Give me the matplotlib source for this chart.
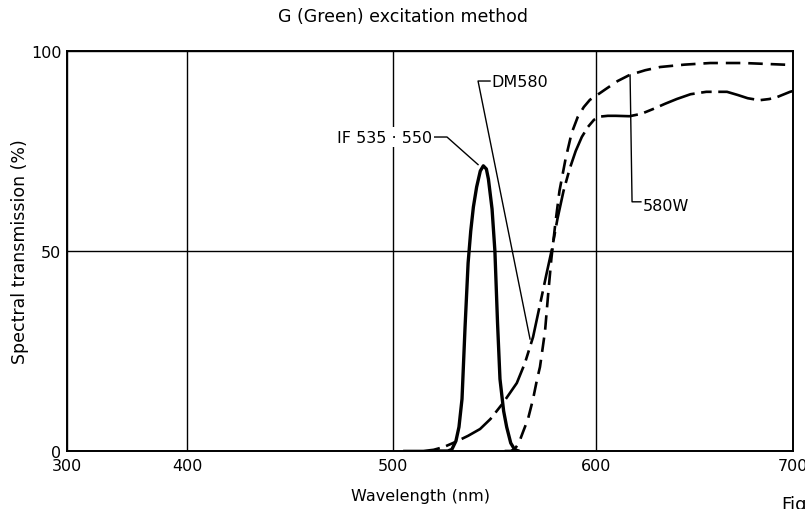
"""
G (Green) excitation method: spectral transmission of the exciter filter
(IF 535-550), dichroic mirror (DM580) and barrier filter (580W).
"""

import matplotlib
matplotlib.use("Agg")
import matplotlib.pyplot as plt
import numpy as np

# exciter filter IF 535-550 (nm, %)
wl_if = [520, 527, 529, 531, 532.5, 534, 535.5, 537, 538.3, 539.6, 541.2, 543,
         544.5, 546, 547, 548.8, 550.2, 551.5, 552.7, 554.5, 556, 558, 560, 562]
t_if = [0, 0, 0.4, 2.5, 6, 13, 31, 47, 55, 61, 66, 70,
        71.3, 70.5, 68, 60.5, 50, 32, 18, 10, 6, 2, 0.3, 0]

# dichroic mirror DM580
wl_dm = [505, 515, 520, 525, 530.5, 537, 542.9, 548, 554.2, 561, 565, 569,
         573, 575.5, 578.3, 581, 584, 587, 590, 593, 596, 599, 602, 606,
         610, 617, 623, 629, 635, 641, 648, 656, 666.5, 672, 677, 683, 688,
         692, 698.5, 700]
t_dm = [0, 0, 0.3, 1, 2.2, 3.8, 5.5, 8, 12, 17, 22, 28.5,
        38, 44, 50.5, 58, 65, 70.5, 75, 78.5, 81, 82.8, 83.6, 83.8,
        83.8, 83.7, 84.3, 85.5, 86.8, 88, 89.2, 89.8, 89.8, 89, 88.2, 87.7, 88,
        88.5, 89.8, 90]

# barrier filter 580W
wl_w = [555, 558, 560, 562, 564, 566.5, 569, 571, 572.4, 573.8, 574.9,
        576.4, 578, 580, 582, 585, 588, 591, 594, 597, 600, 605, 611, 617,
        625, 632.5, 645, 658, 675, 690, 700]
t_w = [0, 0, 0.5, 2, 4.7, 8, 13, 18, 21, 26, 30,
       39, 48, 57, 65, 73, 79.5, 83.5, 86, 87.8, 88.8, 90.5, 92.5, 94,
       95.2, 96, 96.6, 97, 97, 96.7, 96.5]

x_ticks = [300, 400, 500, 600, 700]
y_ticks = [0, 50, 100]

# the printed wavelength axis is not linear: 300-400 is squeezed
scale_nm = [300, 400, 500, 600, 700]
scale_pos = [0, 120, 326, 529, 726]


def forward(x):
    return np.interp(x, scale_nm, scale_pos)


def inverse(u):
    return np.interp(u, scale_pos, scale_nm)


def main():
    plt.rcParams["font.family"] = ["DejaVu Sans"]

    fig = plt.figure(figsize=(8.05, 5.10), dpi=100)
    ax = fig.add_axes([0.0832, 0.1137, 0.9019, 0.7843])

    ax.set_xscale("function", functions=(forward, inverse))
    ax.set_xlim(300, 700)
    ax.set_ylim(0, 100)
    ax.set_xticks(x_ticks)
    ax.set_yticks(y_ticks)
    ax.tick_params(axis="x", length=0, labelsize=11.5, pad=5)
    ax.tick_params(axis="y", length=0, labelsize=11.5, pad=4)
    ax.grid(True, color="black", linewidth=1.0)
    for s in ax.spines.values():
        s.set_linewidth(1.4)

    ax.plot(wl_if, t_if, color="black", linewidth=2.4, solid_capstyle="round")
    ax.plot(wl_dm, t_dm, color="black", linewidth=1.9,
            linestyle=(0, (14, 2.5, 4, 2.5)))
    ax.plot(wl_w, t_w, color="black", linewidth=1.9, linestyle=(0, (5.5, 3)))

    # labels with leader lines
    ax.plot([519.8, 526.6, 541.9], [78.5, 78.5, 71.6], color="black", linewidth=1.0)
    ax.text(519.2, 78.5, "IF 535 \u00b7 550", ha="right", va="center", fontsize=11.5,
            bbox=dict(facecolor="white", edgecolor="none", pad=1.5))

    ax.plot([567.5, 541.9, 547.8], [28, 92.5, 92.5], color="black", linewidth=1.0)
    ax.text(548.6, 92.5, "DM580", ha="left", va="center", fontsize=11.5)

    ax.plot([617.3, 618.3, 622.8], [94, 62.3, 62.3], color="black", linewidth=1.0)
    ax.text(623.6, 61.5, "580W", ha="left", va="center", fontsize=11.5)

    ax.set_xlabel("Wavelength (nm)", fontsize=11.5)
    ax.set_ylabel("Spectral transmission (%)", fontsize=12.5)
    ax.xaxis.set_label_coords(0.4876, -0.092)
    ax.yaxis.set_label_coords(-0.052, 0.5)

    fig.text(0.5, 0.967, "G (Green) excitation method", ha="center", va="center",
             fontsize=12.5)
    fig.text(0.971, 0.028, "Fig.", ha="left", va="top", fontsize=13)

    fig.savefig("out.png", dpi=100)


if __name__ == "__main__":
    main()
